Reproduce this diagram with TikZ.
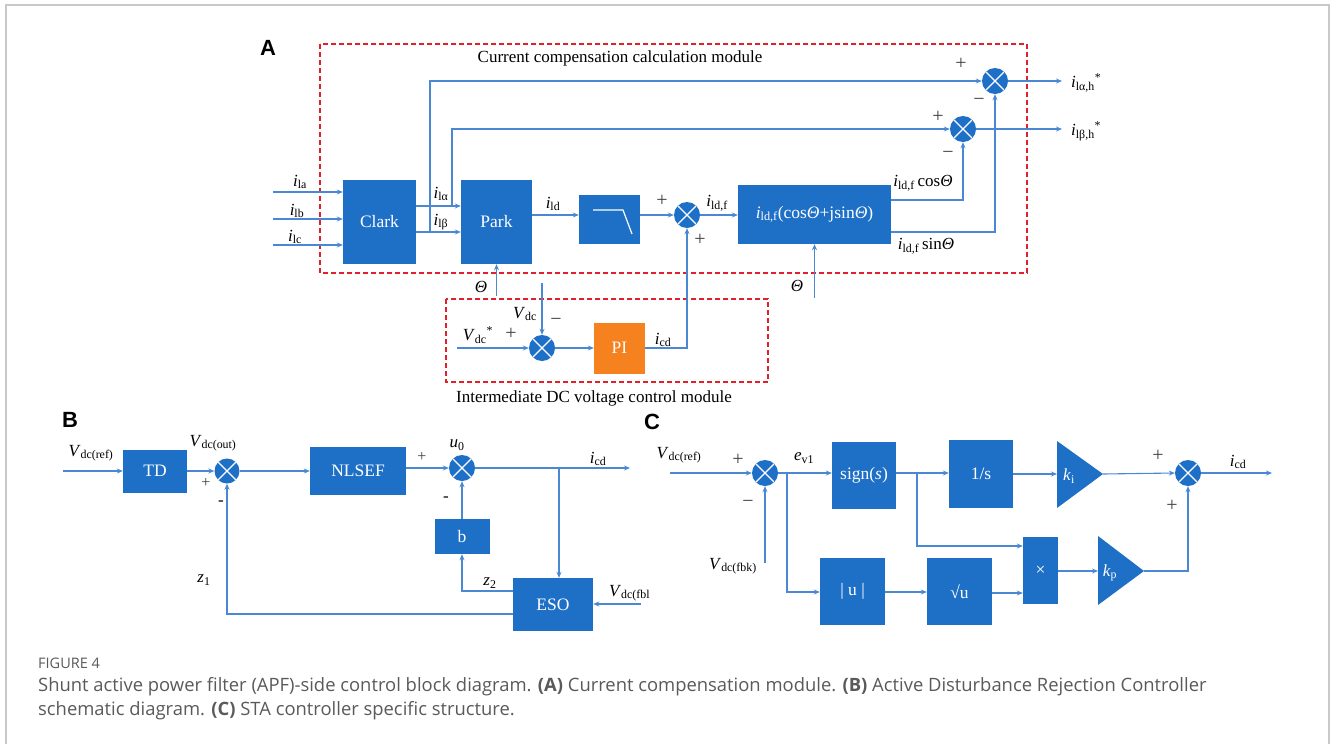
\documentclass[tikz,border=0pt]{standalone}
\usepackage{fontspec}
\setmainfont{Liberation Serif}
\newfontfamily\capfont{Open Sans}
\newfontfamily\lblfont{Liberation Sans}
\usetikzlibrary{arrows.meta}
\definecolor{boxblue}{HTML}{1E6FC6}
\definecolor{lineblue}{HTML}{4A88D4}
\definecolor{dred}{HTML}{E0202A}
\definecolor{framegray}{HTML}{C8C8C8}
\definecolor{capgray}{HTML}{5A5A5A}
\definecolor{piorange}{HTML}{F5821F}
\newcommand{\isub}[2]{\textit{#1}\textsubscript{#2}}
\tikzset{
  lbl/.style={inner sep=0pt, font=\fontsize{17}{19}\selectfont},
  sgn/.style={inner sep=0pt, font=\fontsize{20}{21}\selectfont, text=black!75},
  blk/.style={fill=boxblue, text=white, inner sep=0pt, font=\fontsize{17.5}{19}\selectfont},
  sumnode/.style={circle, fill=boxblue, minimum size=26pt, inner sep=0pt,
    path picture={\draw[white, line width=1.2pt]
      (path picture bounding box.north west) -- (path picture bounding box.south east)
      (path picture bounding box.north east) -- (path picture bounding box.south west);}},
  ln/.style={lineblue, line width=1.1pt},
  arr/.style={ln, -{Stealth[length=6pt,width=5pt]}},
  module/.style={dred, line width=1.7pt, dash pattern=on 5pt off 3pt},
  panel/.style={inner sep=0pt, font=\lblfont\bfseries\fontsize{22}{24}\selectfont},
}
\begin{document}
\begin{tikzpicture}[x=1pt, y=-1pt]
\useasboundingbox (0,0) rectangle (1330,744);
\fill[white] (0,0) rectangle (1330,744);
\draw[framegray, line width=1.5pt] (6,744) -- (6,5) -- (1329,5) -- (1329,744);

% ================= Panel A =================
\node[panel] (labA) at (268,48) {A};
\draw[module] (320,44) rectangle (1027,273);
\node[lbl] (titleA) at (620,58) {Current compensation calculation module};

\node[blk, minimum width=73pt, minimum height=84pt] (clark) at (379.5,222) {Clark};
\node[blk, minimum width=71pt, minimum height=84pt] (park) at (496.5,222) {Park};
\node[blk, minimum width=61pt, minimum height=49pt] (filt) at (609.5,219.5) {};
\draw[white, line width=1.2pt] (593,210) -- (623,210) -- (632,234);
\node[sumnode] (sA1) at (687,215) {};
\node[blk, minimum width=153pt, minimum height=59pt] (big) at (814.5,214.5)
  {\isub{i}{ld,f}(cos\textit{Θ}+jsin\textit{Θ})};
\node[sumnode] (sAa) at (995,81) {};
\node[sumnode] (sAb) at (963,129) {};

\coordinate (ina) at (273,192);
\coordinate (inb) at (273,219);
\coordinate (inc) at (273,245);
\draw[arr] (ina) -- (clark.west |- ina);
\draw[arr] (inb) -- (clark.west |- inb);
\draw[arr] (inc) -- (clark.west |- inc);
\node[lbl] (tla) at (300,182) {\isub{i}{la}};
\node[lbl] (tlb) at (297,211) {\isub{i}{lb}};
\node[lbl] (tlc) at (295,237) {\isub{i}{lc}};

\draw[arr] (clark.east |- 0,206) -- (park.west |- 0,206);
\draw[arr] (clark.east |- 0,232) -- (park.west |- 0,232);
\node[lbl] (tal) at (441,194) {\isub{i}{lα}};
\node[lbl] (tbe) at (441,222) {\isub{i}{lβ}};
\coordinate (brb) at (430,232);
\coordinate (bra) at (452,206);
\draw[arr] (brb) |- (sAa.west);
\draw[arr] (bra) |- (sAb.west);

\draw[arr] (park.east |- 0,215) -- (filt.west |- 0,215);
\node[lbl] (tld) at (553,204) {\isub{i}{ld}};
\draw[arr] (filt.east |- 0,215) -- (sA1.west);
\node[sgn] (p1) at (662,201) {+};
\node[sgn] (p2) at (700,240) {+};
\draw[arr] (sA1.east) -- (big.west |- sA1);
\node[lbl] (tldf) at (717,203) {\isub{i}{ld,f}};

\draw[arr] (big.east |- 0,200) -| (sAb.south);
\draw[arr] (big.east |- 0,232) -| (sAa.south);
\node[lbl] (tcos) at (923,183) {\isub{i}{ld,f}\,cos\textit{Θ}};
\node[lbl] (tsin) at (926,246) {\isub{i}{ld,f}\,sin\textit{Θ}};
\node[sgn] (p3) at (961,64) {+};
\node[sgn] (m3) at (979,102) {−};
\node[sgn] (p4) at (938,117) {+};
\node[sgn] (m4) at (948,155) {−};

\coordinate (oa) at (1062,81);
\coordinate (ob) at (1062,129);
\draw[arr] (sAa.east) -- (oa);
\draw[arr] (sAb.east) -- (ob);
\node[lbl, anchor=west] (toa) at (1071,83) {\isub{i}{lα,h}\textsuperscript{*}};
\node[lbl, anchor=west] (tob) at (1071,131) {\isub{i}{lβ,h}\textsuperscript{*}};

\coordinate (thp) at (496.5,296);
\coordinate (thb) at (814.5,298);
\draw[arr] (thp) -- (park.south);
\draw[arr] (thb) -- (big.south);
\node[lbl] (tth1) at (481,287) {\textit{Θ}};
\node[lbl] (tth2) at (797,286) {\textit{Θ}};

% DC module
\draw[module] (446,299) rectangle (768,382);
\node[lbl] (titleDC) at (594,398) {Intermediate DC voltage control module};
\node[sumnode] (sDC) at (542,348) {};
\node[fill=piorange, text=white, inner sep=0pt, minimum width=51pt, minimum height=51pt,
  font=\fontsize{17.5}{19}\selectfont] (pi) at (619.5,348) {PI};
\coordinate (vref) at (457,348);
\coordinate (vdc) at (542,283);
\draw[arr] (vref) -- (sDC.west);
\draw[arr] (vdc) -- (sDC.north);
\draw[arr] (sDC.east) -- (pi.west);
\draw[arr] (pi.east) -| (sA1.south);
\node[lbl] (tvr) at (478,335) {\isub{V}{dc}\textsuperscript{*}};
\node[sgn] (p5) at (511,334) {+};
\node[lbl] (tvdc) at (525,314) {\isub{V}{dc}};
\node[sgn] (m5) at (556,322) {−};
\node[lbl] (ticd) at (663,340) {\isub{i}{cd}};

% ================= Panel B =================
\node[panel] (labB) at (70,420) {B};
\node[blk, minimum width=64pt, minimum height=43pt] (td) at (155,471) {TD};
\node[sumnode, minimum size=25pt] (sB1) at (227,471) {};
\node[blk, minimum width=96pt, minimum height=48pt] (nlsef) at (358,471) {NLSEF};
\node[sumnode] (sB2) at (462,468) {};
\node[blk, minimum width=80pt, minimum height=53pt] (eso) at (553,604.5) {ESO};
\node[blk, minimum width=55pt, minimum height=35pt] (bb) at (462,536.5) {b};

\coordinate (bin) at (63,471);
\draw[arr] (bin) -- (td.west);
\node[lbl] (tvref) at (91,453) {\isub{V}{dc(ref)}};
\draw[arr] (td.east) -- (sB1.west);
\node[lbl] (tvout) at (213,443) {\isub{V}{dc(out)}};
\node[sgn, font=\fontsize{16}{17}\selectfont] (p6) at (206,483) {+};
\node[lbl] (m6) at (221,503) {-};
\draw[arr] (sB1.east) -- (nlsef.west);
\draw[arr] (nlsef.east |- sB2) -- (sB2.west);
\node[sgn, font=\fontsize{16}{17}\selectfont] (p7) at (422,457) {+};
\node[lbl] (tu0) at (457,445) {\textit{u}\textsubscript{0}};
\coordinate (bout) at (630,468);
\draw[arr] (sB2.east) -- (bout);
\node[lbl] (ticdb) at (598,459) {\isub{i}{cd}};
\coordinate (brB) at (559,468);
\draw[arr] (brB) -- (brB |- eso.north);
\draw[arr] (bb.north) -- (sB2.south);
\node[lbl] (m7) at (446,499) {-};
\draw[arr] (eso.west |- 0,591) -| (bb.south);
\node[lbl] (tz2) at (490,583) {\isub{z}{2}};
\draw[arr] (eso.west |- 0,614) -| (sB1.south);
\node[lbl] (tz1) at (204,580) {\isub{z}{1}};
\coordinate (fbl) at (641,604);
\draw[arr] (fbl) -- (eso.east |- fbl);
\node[lbl, anchor=west] (tfbl) at (609,593) {\isub{V}{dc(fbl}};

% ================= Panel C =================
\node[panel] (labC) at (652,422) {C};
\node[sumnode] (sC1) at (765,473) {};
\node[blk, minimum width=64pt, minimum height=67pt] (sign) at (864,475.5) {sign(\textit{s})};
\node[blk, minimum width=65pt, minimum height=67pt] (absu) at (852.5,591.5) {| u |};
\node[blk, minimum width=64pt, minimum height=68pt] (ones) at (981,474) {1/s};
\node[blk, minimum width=65pt, minimum height=67pt] (sqrtu) at (959.5,591.5) {√u};
\node[blk, minimum width=35pt, minimum height=67pt] (times) at (1040.5,570.5) {×};
\coordinate (kiin) at (1057,474);
\coordinate (kiout) at (1103,474);
\coordinate (kpin) at (1098,571);
\coordinate (kpout) at (1144,571);
\fill[boxblue] (1057,441) -- (kiout) -- (1057,508) -- cycle;
\fill[boxblue] (1098,536) -- (kpout) -- (1098,605) -- cycle;
\node[lbl, text=white] (tki) at (1069,476) {\isub{k}{i}};
\node[lbl, text=white] (tkp) at (1110,573) {\isub{k}{p}};
\node[sumnode] (sC2) at (1188,473) {};

\coordinate (cin) at (670,473);
\draw[arr] (cin) -- (sC1.west);
\node[lbl] (tcref) at (679,455) {\isub{V}{dc(ref)}};
\node[sgn] (p8) at (738,460) {+};
\node[sgn] (m8) at (748,504) {−};
\coordinate (cfbk) at (765,563);
\draw[arr] (cfbk) -- (sC1.south);
\node[lbl] (tfbk) at (733,566) {\isub{V}{dc(fbk)}};
\draw[arr] (sC1.east) -- (sign.west |- sC1);
\node[lbl] (tev) at (804,458) {\isub{e}{v1}};
\coordinate (brC1) at (787,473);
\draw[arr] (brC1) |- (absu.west |- 0,592);
\draw[arr] (sign.east |- 0,473) -- (ones.west |- 0,473);
\coordinate (brC2) at (917,473);
\draw[arr] (brC2) |- (times.west |- 0,546);
\draw[arr] (absu.east |- 0,592) -- (sqrtu.west |- 0,592);
\draw[arr] (sqrtu.east |- 0,593) -- (times.west |- 0,593);
\draw[arr] (ones.east |- kiin) -- (kiin);
\draw[arr] (kiout) -- (sC2.west);
\draw[arr] (times.east |- kpin) -- (kpin);
\draw[arr] (kpout) -| (sC2.south);
\node[sgn] (p9) at (1158,456) {+};
\node[sgn] (p10) at (1172,506) {+};
\coordinate (cout) at (1272,473);
\draw[arr] (sC2.east) -- (cout);
\node[lbl] (ticdc) at (1238,462) {\isub{i}{cd}};

% ================= Caption =================
\node[anchor=west, inner sep=0pt, text=capgray, font=\capfont\fontsize{14.5}{16}\selectfont] (fig) at (38,663) {FIGURE 4};
\node[anchor=west, inner sep=0pt, text=capgray, font=\capfont\fontsize{18.4}{20}\selectfont] (cap1) at (38,687)
  {Shunt active power filter (APF)-side control block diagram. \textbf{(A)} Current compensation module. \textbf{(B)} Active Disturbance Rejection Controller};
\node[anchor=west, inner sep=0pt, text=capgray, font=\capfont\fontsize{18.4}{20}\selectfont] (cap2) at (38,711)
  {schematic diagram. \textbf{(C)} STA controller specific structure.};
\end{tikzpicture}
\end{document}
